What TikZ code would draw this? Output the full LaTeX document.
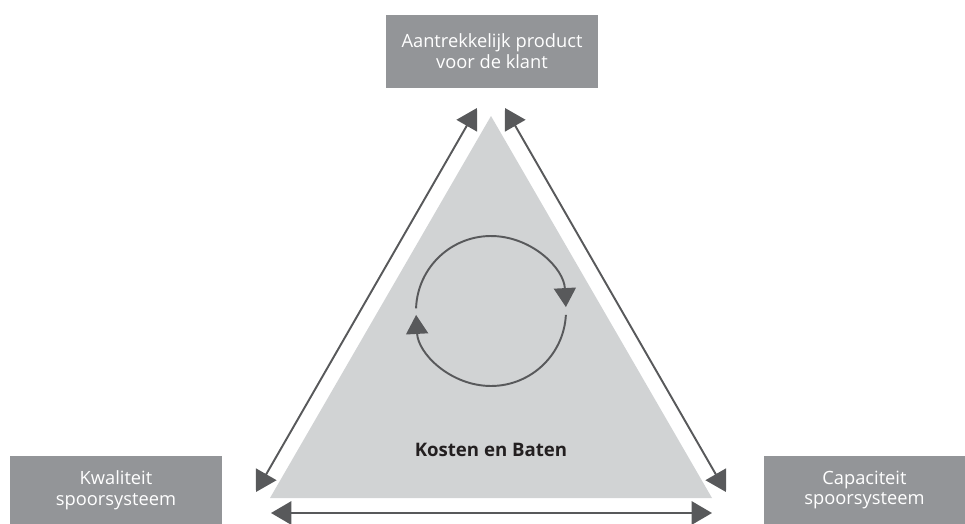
\documentclass[tikz,border=0pt]{standalone}
\usepackage{fontspec}
\setmainfont{Open Sans}
\usetikzlibrary{positioning,arrows.meta}
\definecolor{boxgray}{HTML}{939598}
\definecolor{trigray}{HTML}{D1D3D4}
\definecolor{linegray}{HTML}{58595B}
\definecolor{textdark}{HTML}{231F20}

\begin{document}
\begin{tikzpicture}[x=0.02cm, y=-0.02cm,
    boxnode/.style={fill=boxgray, text=white, align=center, inner sep=0pt, minimum height=1.36cm, font=\fontsize{10.4}{11.9}\selectfont},
    arrowline/.style={draw=linegray, line width=1.1pt, {Triangle[length=0.41cm, width=0.47cm]}-{Triangle[length=0.41cm, width=0.47cm]}},
    cycleline/.style={draw=linegray, line width=1.1pt, -{Triangle[length=0.38cm, width=0.44cm]}},
    ]
    \useasboundingbox (0,0) rectangle (965,524);
    % triangle
    \coordinate (top)   at (491,116);
    \coordinate (left)  at (270,498);
    \coordinate (right) at (712,498);
    \fill[trigray] (top) -- (right) -- (left) -- cycle;
    % nodes
    \node[boxnode, minimum width=4.24cm, minimum height=1.46cm] (klant)      at (492,51.5)  {Aantrekkelijk product\\voor de klant};
    \node[boxnode, minimum width=4.24cm]                        (kwaliteit)  at (116,490)   {Kwaliteit\\spoorsysteem};
    \node[boxnode, minimum width=4.02cm]                        (capaciteit) at (864.5,490) {Capaciteit\\spoorsysteem};
    \node[text=textdark, anchor=base, font=\fontsize{10.6}{13}\selectfont\bfseries] (kosten) at (491,456) {Kosten en Baten};
    % arrow ends
    \coordinate (lt) at (477,108);
    \coordinate (lb) at (256,492);
    \coordinate (rt) at (505,108);
    \coordinate (rb) at (726,492);
    \coordinate (bl) at (271,513);
    \coordinate (br) at (712,513);
    % lines
    \draw[arrowline] (lb) -- (lt);
    \draw[arrowline] (rt) -- (rb);
    \draw[arrowline] (bl) -- (br);
    % cycle
    \coordinate (mid) at (491,311);
    \draw[cycleline] (mid) ++(178:1.5cm) arc[start angle=178, end angle=3, radius=1.5cm];
    \draw[cycleline] (mid) ++(-3:1.5cm) arc[start angle=-3, end angle=-177, radius=1.5cm];
\end{tikzpicture}
\end{document}
